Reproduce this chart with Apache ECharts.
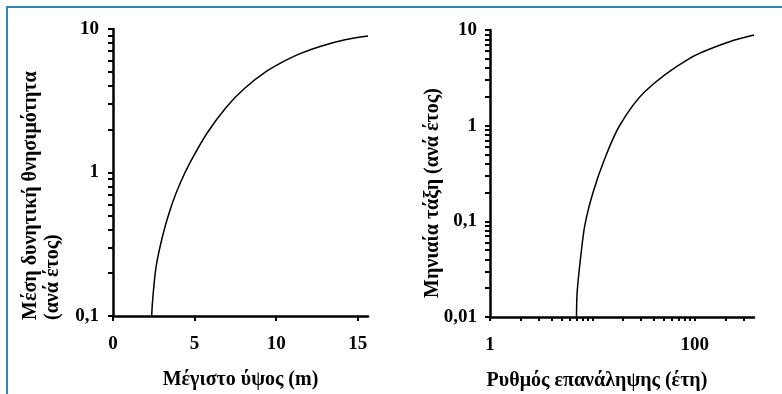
<!DOCTYPE html>
<html>
<head>
<meta charset="utf-8">
<script src="https://cdn.jsdelivr.net/npm/echarts@6/dist/echarts.min.js"></script>
<style>
    html, body { margin: 0; padding: 0; background: #fff; }
    #chart { width: 782px; height: 394px; }
</style>
</head>
<body>
<div id="chart"></div>
<script>
// αριστερό γράφημα: μέγιστο ύψος (m) -> μέση δυνητική θνησιμότητα
const heightM = [2.37, 2.43, 2.64, 3.08, 3.62, 4.11, 4.72, 5.75, 6.97, 8.09, 9.42, 10.55, 11.47, 12.69, 14.22, 15.63];
const mortality = [0.1, 0.129, 0.22, 0.376, 0.603, 0.839, 1.17, 1.87, 2.87, 3.88, 5.08, 6.02, 6.74, 7.56, 8.41, 8.94];
const heightTicks = [0, 5, 10, 15];
const mortalityTicks = [0.1, 0.2, 0.3, 0.4, 0.5, 0.6, 0.7, 0.8, 0.9, 1, 2, 3, 4, 5, 6, 7, 8, 9, 10];

// δεξί γράφημα: ρυθμός επανάληψης (έτη) -> μηνιαία τάξη
const returnYears = [7.0, 7.11, 7.66, 8.45, 10.19, 13.24, 18.55, 32.5, 89.4, 219.5, 380];
const monthlyRate = [0.01, 0.0183, 0.0408, 0.0912, 0.203, 0.454, 1.01, 2.26, 5.05, 7.55, 8.87];
const returnTicks = [1, 2, 3, 4, 5, 6, 7, 8, 9, 10, 20, 30, 40, 50, 60, 70, 80, 90, 100, 200, 300];
const returnLabels = [1, 100];
const rateTicks = [
    0.01, 0.02, 0.03, 0.04, 0.05, 0.06, 0.07, 0.08, 0.09,
    0.1, 0.2, 0.3, 0.4, 0.5, 0.6, 0.7, 0.8, 0.9,
    1, 2, 3, 4, 5, 6, 7, 8, 9, 10,
];

const font = 'Liberation Serif';
const labelStyle = {
    color: '#000',
    fontFamily: font,
    fontWeight: 'bold',
    fontSize: 19,
};
const nameStyle = { ...labelStyle, fontSize: 20 };
const axisLine = { show: true, onZero: false, lineStyle: { color: '#000', width: 2.5 } };
const tickLine = { color: '#000', width: 2 };
const comma = v => String(v).replace('.', ',');

const myChart = echarts.init(document.getElementById('chart'));

const chartOption = {
    animation: false,
    grid: [
        { left: 113, right: 414, top: 29, bottom: 78, outerBoundsMode: 'none' },
        { left: 490, right: 28, top: 30, bottom: 77, outerBoundsMode: 'none' },
    ],
    xAxis: [
        {
            gridIndex: 0,
            type: 'value',
            min: 0,
            max: 15.63,
            splitLine: { show: false },
            axisLine: axisLine,
            axisTick: { show: true, customValues: heightTicks, length: 5, lineStyle: tickLine },
            axisLabel: { ...labelStyle, customValues: heightTicks, margin: 19 },
            name: 'Μέγιστο ύψος (m)',
            nameLocation: 'middle',
            nameGap: 54,
            nameTextStyle: nameStyle,
        },
        {
            gridIndex: 1,
            type: 'log',
            logBase: 10,
            min: 1,
            max: 380,
            splitLine: { show: false },
            axisLine: axisLine,
            axisTick: { show: true, customValues: returnTicks, length: 4, lineStyle: tickLine },
            axisLabel: {
                ...labelStyle,
                margin: 19,
                formatter: v => (returnLabels.indexOf(v) >= 0 ? String(v) : ''),
            },
            name: 'Ρυθμός επανάληψης (έτη)',
            nameLocation: 'middle',
            nameGap: 54,
            nameTextStyle: { ...nameStyle, padding: [0, 50, 0, 0] },
        },
    ],
    yAxis: [
        {
            gridIndex: 0,
            type: 'log',
            logBase: 10,
            min: 0.1,
            max: 10,
            splitLine: { show: false },
            axisLine: axisLine,
            axisTick: { show: true, customValues: mortalityTicks, length: 5, lineStyle: tickLine },
            axisLabel: { ...labelStyle, margin: 14, formatter: comma },
        },
        {
            gridIndex: 1,
            type: 'log',
            logBase: 10,
            min: 0.01,
            max: 10,
            splitLine: { show: false },
            axisLine: axisLine,
            axisTick: { show: true, customValues: rateTicks, length: 5, lineStyle: tickLine },
            axisLabel: { ...labelStyle, margin: 13, formatter: comma },
        },
    ],
    graphic: [
        {
            type: 'rect',
            shape: { x: 7, y: 7, width: 800, height: 400 },
            style: { fill: 'none', stroke: '#2f86b0', lineWidth: 2 },
            silent: true,
        },
        {
            type: 'text',
            x: 42,
            y: 320,
            rotation: Math.PI / 2,
            style: {
                text: 'Μέση δυνητική θνησιμότητα\n(ανά έτος)',
                fill: '#000',
                font: 'bold 20px "Liberation Serif"',
                textAlign: 'left',
                textVerticalAlign: 'middle',
                lineHeight: 22,
            },
        },
        {
            type: 'text',
            x: 433,
            y: 298,
            rotation: Math.PI / 2,
            style: {
                text: 'Μηνιαία τάξη (ανά έτος)',
                fill: '#000',
                font: 'bold 20px "Liberation Serif"',
                textAlign: 'left',
                textVerticalAlign: 'middle',
            },
        },
    ],
    series: [
        {
            type: 'line',
            xAxisIndex: 0,
            yAxisIndex: 0,
            showSymbol: false,
            smooth: 0.3,
            lineStyle: { color: '#000', width: 1.5 },
            data: heightM.map((x, i) => [x, mortality[i]]),
        },
        {
            type: 'line',
            xAxisIndex: 1,
            yAxisIndex: 1,
            showSymbol: false,
            smooth: 0.3,
            lineStyle: { color: '#000', width: 1.5 },
            data: returnYears.map((x, i) => [x, monthlyRate[i]]),
        },
    ],
};
myChart.setOption(chartOption);
window.addEventListener('resize', function() {
    myChart.resize();
});
</script>
</body>
</html>
